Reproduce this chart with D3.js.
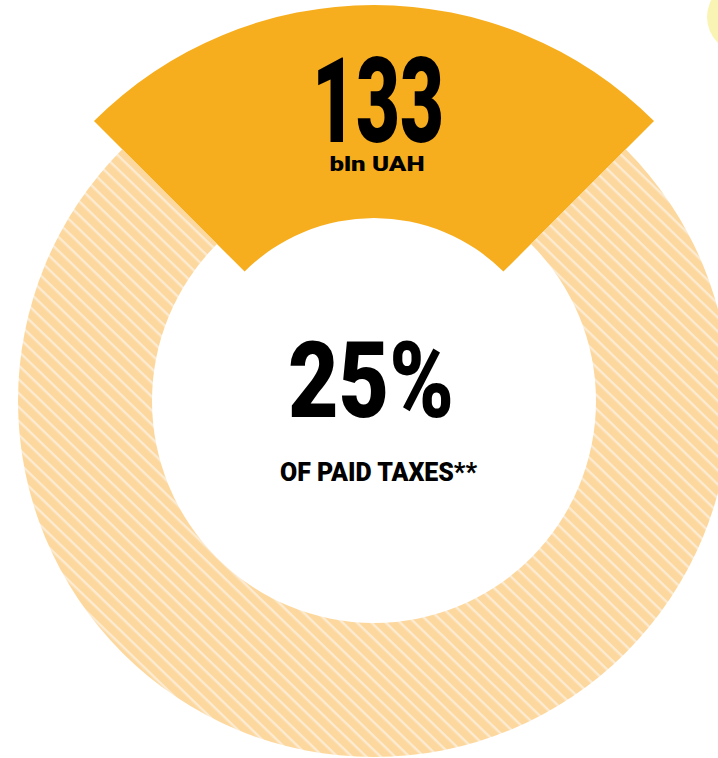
<!DOCTYPE html>
<html>
<head>
<meta charset="utf-8">
<script src="https://cdn.jsdelivr.net/npm/d3@7"></script>
<style>
  html, body { margin: 0; padding: 0; background: #fff; }
  svg { display: block; }
</style>
</head>
<body>
<div id="chart"></div>
<script>
// --- data ---
const shareLabels = ['Paid by group', 'Other'];
const shareValues = [25, 75];
const amountText = '133';
const unitText = 'bln UAH';
const percentText = '25%';
const captionText = 'OF PAID TAXES**';

const width = 718, height = 758;
const cx = 374, cy = 401;

const svg = d3.select('#chart').append('svg')
    .attr('width', width)
    .attr('height', height);

// stripes for the "rest" part of the ring
const defs = svg.append('defs');
const pattern = defs.append('pattern')
    .attr('id', 'hatch')
    .attr('patternUnits', 'userSpaceOnUse')
    .attr('width', 10).attr('height', 10)
    .attr('patternTransform', 'rotate(44)');
pattern.append('rect').attr('width', 10).attr('height', 10).attr('fill', '#fdd89e');
pattern.append('rect').attr('y', 0).attr('width', 10).attr('height', 2.4).attr('fill', '#fbebd2');

// decorative circle in the corner
svg.append('circle')
    .attr('cx', 743).attr('cy', 17).attr('r', 36)
    .attr('fill', '#faf4b4');

const g = svg.append('g').attr('transform', `translate(${cx},${cy})`);

const pie = d3.pie().sort(null)
    .startAngle(-Math.PI / 4)
    .endAngle(2 * Math.PI - Math.PI / 4);
const slices = pie(shareValues);

const ringArc = d3.arc().innerRadius(222).outerRadius(356);
const highlightArc = d3.arc().innerRadius(183).outerRadius(396);

g.selectAll('path.slice')
    .data(slices)
    .join('path')
    .attr('class', 'slice')
    .attr('d', (d, i) => i === 0 ? highlightArc(d) : ringArc(d))
    .attr('fill', (d, i) => i === 0 ? '#f7ae1e' : 'url(#hatch)');

// --- labels ---
const condensed = 'Roboto, "Liberation Sans", sans-serif';

g.append('text')
    .attr('x', 4).attr('y', 142 - cy)
    .attr('text-anchor', 'middle')
    .attr('font-family', condensed)
    .attr('font-weight', 900)
    .attr('font-size', 118)
    .attr('textLength', 132)
    .attr('lengthAdjust', 'spacingAndGlyphs')
    .attr('fill', '#000')
    .text(amountText);

g.append('text')
    .attr('x', 3).attr('y', 171 - cy)
    .attr('text-anchor', 'middle')
    .attr('font-family', 'Roboto, sans-serif')
    .attr('font-weight', 900)
    .attr('font-size', 20)
    .attr('textLength', 95)
    .attr('lengthAdjust', 'spacingAndGlyphs')
    .attr('fill', '#000')
    .text(unitText);

g.append('text')
    .attr('x', -3).attr('y', 417 - cy)
    .attr('text-anchor', 'middle')
    .attr('font-family', condensed)
    .attr('font-weight', 900)
    .attr('font-size', 105)
    .attr('textLength', 166)
    .attr('lengthAdjust', 'spacingAndGlyphs')
    .attr('fill', '#000')
    .text(percentText);

g.append('text')
    .attr('x', 4.5).attr('y', 481 - cy)
    .attr('text-anchor', 'middle')
    .attr('font-family', condensed)
    .attr('font-weight', 900)
    .attr('font-size', 26)
    .attr('textLength', 197)
    .attr('lengthAdjust', 'spacingAndGlyphs')
    .attr('fill', '#000')
    .text(captionText);
</script>
</body>
</html>
